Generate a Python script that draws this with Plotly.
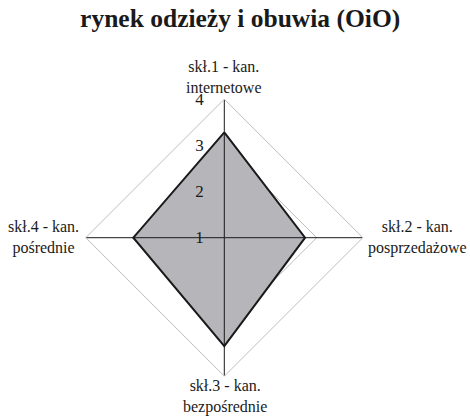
import plotly.graph_objects as go

# Channel components (angular categories), clockwise from the top
categories = [
    "skł.1 - kan.<br>internetowe",
    "skł.2 - kan.<br>posprzedażowe",
    "skł.3 - kan.<br>bezpośrednie",
    "skł.4 - kan.<br>pośrednie",
]
scores = [3.28, 2.75, 3.35, 2.97]
radial_ticks = [1, 2, 3, 4]

title_text = "rynek odzieży i obuwia (OiO)"

SERIF = "Liberation Serif, Times New Roman, serif"
GRID = "#bdbdbd"
FILL = "#b5b5ba"
INK = "#1a1a1a"

W, H = 470, 419
# polar area: centre and outer radius in pixels
CX, CY, R = 224.3, 237.7, 138.5

fig = go.Figure()

# filled score polygon
fig.add_trace(go.Scatterpolar(
    r=scores + scores[:1],
    theta=categories + categories[:1],
    mode="lines",
    fill="toself",
    fillcolor=FILL,
    line=dict(color=INK, width=2),
    hoverinfo="skip",
    showlegend=False,
))

# category spokes drawn over the fill
for cat in categories:
    fig.add_trace(go.Scatterpolar(
        r=[radial_ticks[0], radial_ticks[-1]],
        theta=[cat, cat],
        mode="lines",
        line=dict(color=INK, width=1),
        hoverinfo="skip",
        showlegend=False,
    ))

# centred two-line category captions around the chart
label_pos = [
    (CX, 77, "center", "middle"),
    (417, CY, "center", "middle"),
    (CX + 1, 396, "center", "middle"),
    (43, CY, "center", "middle"),
]
annotations = []
for cat, (px, py, xa, ya) in zip(categories, label_pos):
    annotations.append(dict(
        text=cat,
        x=px / W,
        y=1 - py / H,
        xref="paper",
        yref="paper",
        xanchor=xa,
        yanchor=ya,
        align="center",
        showarrow=False,
        font=dict(family=SERIF, size=16, color=INK),
    ))

fig.update_layout(
    width=W,
    height=H,
    margin=dict(l=0, r=0, t=0, b=0),
    paper_bgcolor="white",
    showlegend=False,
    annotations=annotations,
    title=dict(
        text=f"<b>{title_text}</b>",
        x=0.511,
        xanchor="center",
        y=0.957,
        yanchor="middle",
        font=dict(family=SERIF, size=25.5, color=INK),
    ),
    polar=dict(
        domain=dict(
            x=[(CX - R) / W, (CX + R) / W],
            y=[(H - CY - R) / H, (H - CY + R) / H],
        ),
        bgcolor="white",
        gridshape="linear",
        radialaxis=dict(
            range=[radial_ticks[0], radial_ticks[-1]],
            tickvals=radial_ticks,
            ticktext=[str(v) for v in radial_ticks],
            angle=90,
            tickangle=90,
            side="counterclockwise",
            showline=False,
            ticks="outside",
            ticklen=14,
            tickcolor="rgba(0,0,0,0)",
            gridcolor=GRID,
            gridwidth=1,
            tickfont=dict(family=SERIF, size=17, color=INK),
            layer="above traces",
        ),
        angularaxis=dict(
            direction="clockwise",
            rotation=90,
            showgrid=False,
            showline=True,
            linecolor=GRID,
            linewidth=1,
            ticks="",
            showticklabels=False,
        ),
    ),
)

fig.write_html("out.html")
